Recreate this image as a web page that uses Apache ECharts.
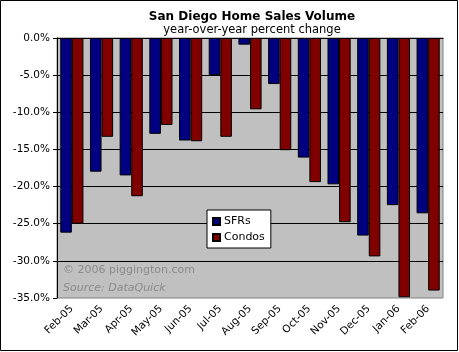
<!DOCTYPE html>
<html>
<head>
<meta charset="utf-8">
<script src="https://cdn.jsdelivr.net/npm/echarts@6/dist/echarts.min.js"></script>
<style>
  html, body { margin: 0; padding: 0; background: #fff; }
  #main { width: 459px; height: 352px; }
</style>
</head>
<body>
<div id="main"></div>
<script>
var months = ['Feb-05', 'Mar-05', 'Apr-05', 'May-05', 'Jun-05', 'Jul-05', 'Aug-05',
              'Sep-05', 'Oct-05', 'Nov-05', 'Dec-05', 'Jan-06', 'Feb-06'];
var sfrs = [-26.2, -18.0, -18.5, -12.9, -13.8, -5.0, -0.9, -6.2, -16.1, -19.7, -26.6, -22.5, -23.6];
var condos = [-25.0, -13.3, -21.3, -11.7, -13.9, -13.3, -9.6, -15.1, -19.4, -24.8, -29.4, -34.9, -34.0];

var font = 'DejaVu Sans';

var option = {
    animation: false,
    backgroundColor: '#fff',
    title: {
        text: 'San Diego Home Sales Volume',
        subtext: 'year-over-year percent change',
        left: 247,
        top: 6,
        textAlign: 'center',
        itemGap: 1,
        textStyle: { fontFamily: font, fontSize: 12, fontWeight: 'bold', color: '#000' },
        subtextStyle: { fontFamily: font, fontSize: 11.5, color: '#000' }
    },
    legend: {
        data: ['SFRs', 'Condos'],
        orient: 'vertical',
        left: 207,
        top: 210,
        padding: [6, 6, 5, 5],
        itemGap: 5,
        itemWidth: 7,
        itemHeight: 7,
        icon: 'rect',
        backgroundColor: '#fff',
        borderColor: '#000',
        borderWidth: 1,
        borderRadius: 0,
        textStyle: { fontFamily: font, fontSize: 11, color: '#000', padding: [0, 0, 0, -1] }
    },
    grid: {
        left: 57,
        right: 16,
        top: 38,
        bottom: 54,
        show: true,
        backgroundColor: '#c0c0c0',
        borderColor: '#808080',
        borderWidth: 1
    },
    xAxis: [
        {
            type: 'category',
            data: months,
            position: 'top',
            axisLine: { lineStyle: { color: '#000', width: 1 } },
            axisTick: { length: 4, lineStyle: { color: '#000' } },
            axisLabel: { show: false }
        },
        {
            type: 'category',
            data: months,
            position: 'bottom',
            axisLine: { show: false },
            axisTick: { show: false },
            axisLabel: {
                rotate: 45,
                interval: 0,
                margin: 9,
                fontFamily: font,
                fontSize: 10.5,
                color: '#000'
            }
        }
    ],
    yAxis: {
        type: 'value',
        min: -35,
        max: 0,
        interval: 5,
        axisLine: { show: true, lineStyle: { color: '#000' } },
        axisTick: { show: true, length: 4, lineStyle: { color: '#000' } },
        axisLabel: {
            margin: 7,
            fontFamily: font,
            fontSize: 10.5,
            color: '#000',
            formatter: function (v) { return v.toFixed(1) + '%'; }
        },
        splitLine: { show: true, showMinLine: false, lineStyle: { color: '#000', width: 1 } }
    },
    series: [
        {
            name: 'SFRs',
            type: 'bar',
            data: sfrs,
            barGap: '0%',
            barCategoryGap: '22%',
            itemStyle: { color: '#000080', borderColor: '#000', borderWidth: 1 }
        },
        {
            name: 'Condos',
            type: 'bar',
            data: condos,
            itemStyle: { color: '#800000', borderColor: '#000', borderWidth: 1 }
        }
    ],
    graphic: [
        {
            type: 'rect',
            shape: { x: 0.5, y: 0.5, width: 457, height: 350 },
            style: { fill: 'none', stroke: '#000', lineWidth: 1 },
            silent: true
        },
        {
            type: 'text',
            left: 63,
            top: 265,
            style: { text: '\u00a9 2006 piggington.com', fill: '#8a8a8a', font: '11px "DejaVu Sans"' }
        },
        {
            type: 'text',
            left: 63,
            top: 283,
            style: { text: 'Source: DataQuick', fill: '#8a8a8a', font: 'italic 11px "DejaVu Sans"' }
        }
    ]
};

var myChart = echarts.init(document.getElementById('main'));
myChart.setOption(option);
</script>
</body>
</html>
